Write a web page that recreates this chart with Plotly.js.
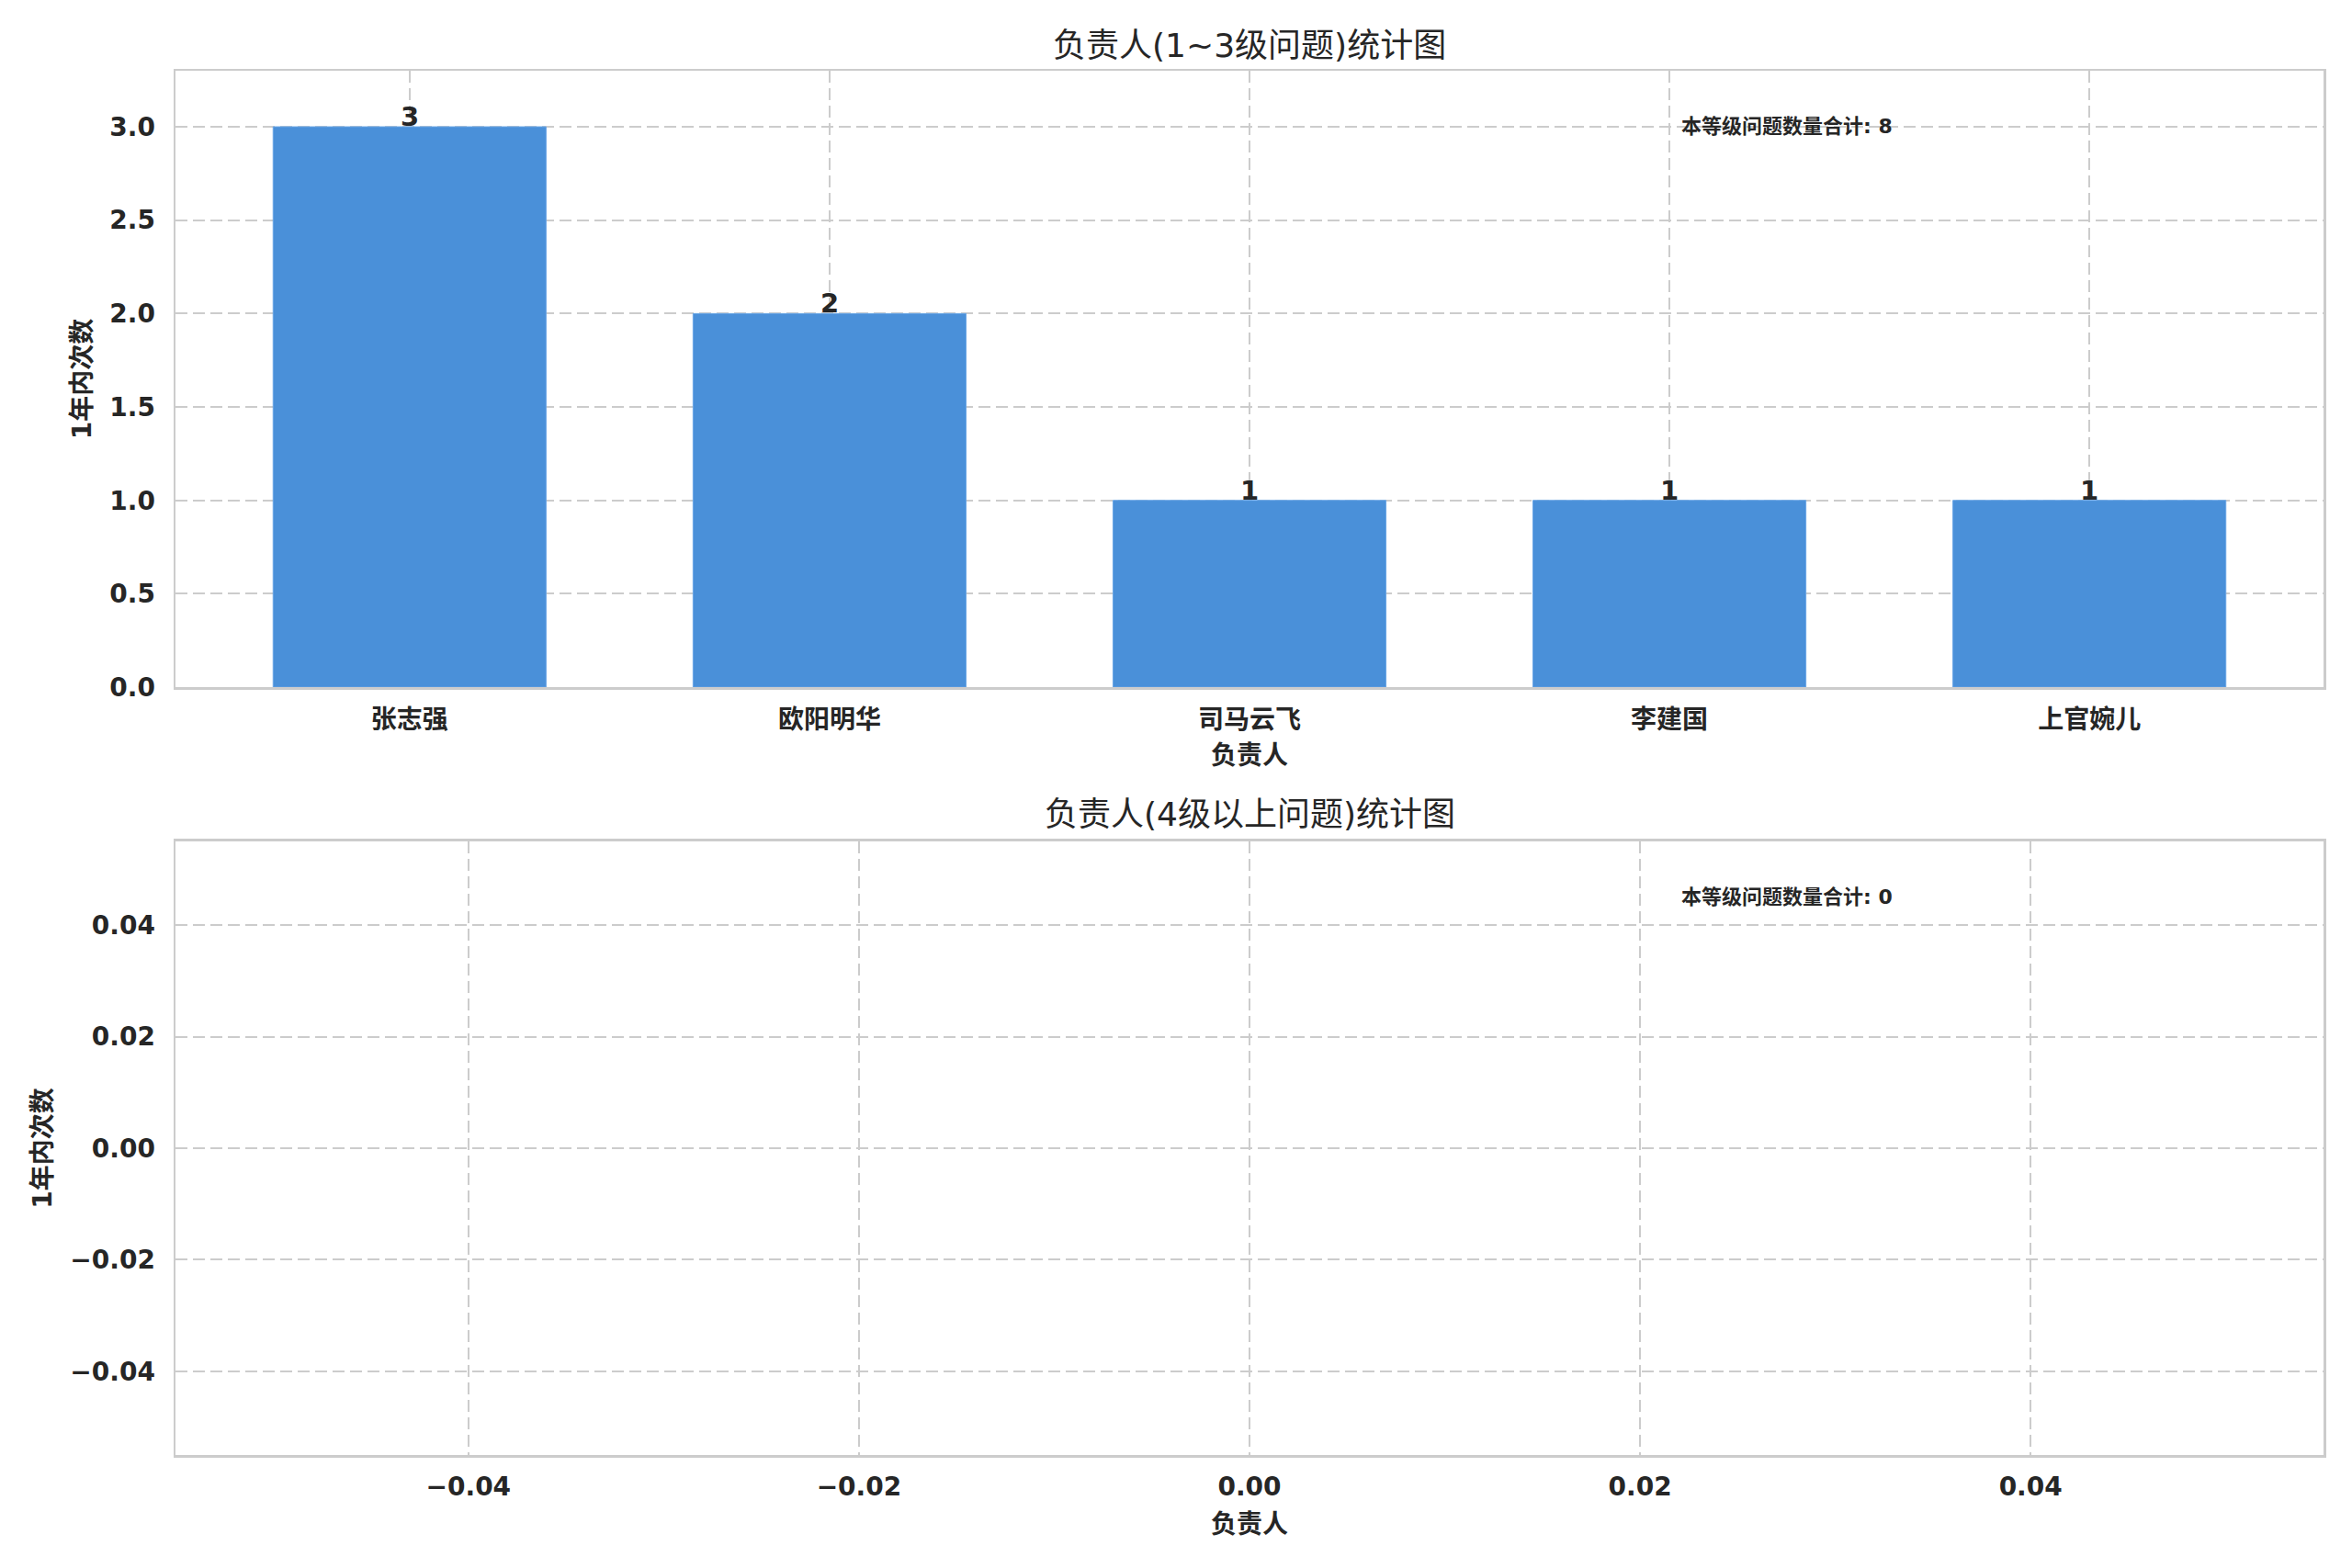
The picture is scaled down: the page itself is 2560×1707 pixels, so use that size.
<!DOCTYPE html>
<html>
<head>
<meta charset="utf-8">
<script src="https://cdn.plot.ly/plotly-3.0.1.min.js"></script>
<style>
  html, body { margin: 0; padding: 0; background: #fff; }
  #chart { width: 2560px; height: 1707px; }
</style>
</head>
<body>
<div id="chart"></div>
<script>
// 1~3 level counts per person
const lowCategories = ['张志强', '欧阳明华', '司马云飞', '李建国', '上官婉儿'];
const lowCounts = [3, 2, 1, 1, 1];

// 4+ level counts (empty)
const highCategories = [];
const highCounts = [];

const lowTitle = '负责人(1~3级问题)统计图';
const highTitle = '负责人(4级以上问题)统计图';
const xLabel = '负责人';
const yLabel = '1年内次数';
const totalLabel = '本等级问题数量合计';

const textColor = '#262626';
const barColor = '#4a90d9';
const gridColor = '#cccccc';
const fontFamily = 'DejaVu Sans, Noto Sans CJK SC, sans-serif';

const sum = (arr) => arr.reduce((a, b) => a + b, 0);

const tickFont = { family: fontFamily, size: 28, color: textColor, weight: 'bold' };
const labelFont = { family: fontFamily, size: 28, color: textColor, weight: 'bold' };

const axisBase = {
  showline: true,
  mirror: true,
  linecolor: gridColor,
  linewidth: 2.5,
  showgrid: true,
  gridcolor: gridColor,
  gridwidth: 2,
  griddash: '13px,6px',
  zeroline: false,
  ticks: '',
  tickfont: tickFont,
  automargin: false,
};

const lowX = lowCategories.map((_, i) => i);

const traces = [
  {
    type: 'bar',
    x: lowX,
    y: lowCounts,
    width: 0.65,
    marker: { color: barColor, line: { color: '#6aa6e6', width: 1 } },
    xaxis: 'x',
    yaxis: 'y',
    hoverinfo: 'skip',
  },
  {
    type: 'bar',
    x: highCategories,
    y: highCounts,
    marker: { color: barColor },
    xaxis: 'x2',
    yaxis: 'y2',
    hoverinfo: 'skip',
  },
];

// value labels sitting on top of each bar
const barLabels = lowCounts.map((v, i) => ({
  text: String(v),
  xref: 'x', yref: 'y',
  x: lowX[i], y: v,
  xanchor: 'center', yanchor: 'bottom',
  yshift: -8,
  showarrow: false,
  font: { family: fontFamily, size: 29, color: textColor, weight: 'bold' },
}));

const layout = {
  width: 2560,
  height: 1707,
  paper_bgcolor: '#ffffff',
  plot_bgcolor: '#ffffff',
  showlegend: false,
  bargap: 0,
  margin: { l: 191, r: 31, t: 77, b: 123 },
  font: { family: fontFamily, color: textColor },
  title: {
    text: lowTitle,
    font: { family: fontFamily, size: 36, color: textColor },
    x: 0.5313,
    xanchor: 'center',
    y: 1 - 49 / 1707,
    yanchor: 'middle',
  },
  xaxis: Object.assign({}, axisBase, {
    domain: [0, 1],
    anchor: 'y',
    range: [-0.5575, 4.5575],
    tickmode: 'array',
    tickvals: lowX,
    ticktext: lowCategories,
    ticklabelstandoff: 9,
    title: { text: xLabel, font: labelFont, standoff: 13 },
  }),
  yaxis: Object.assign({}, axisBase, {
    domain: [0.5547, 1],
    anchor: 'x',
    range: [0, 3.3],
    dtick: 0.5,
    tick0: 0,
    tickformat: '.1f',
    ticklabelstandoff: 14,
    title: { text: yLabel, font: labelFont, standoff: 12 },
  }),
  xaxis2: Object.assign({}, axisBase, {
    domain: [0, 1],
    anchor: 'y2',
    type: 'linear',
    range: [-0.055, 0.055],
    dtick: 0.02,
    tick0: 0,
    tickformat: '.2f',
    ticklabelstandoff: 8,
    title: { text: xLabel, font: labelFont, standoff: 16 },
  }),
  yaxis2: Object.assign({}, axisBase, {
    domain: [0, 0.4433],
    anchor: 'x2',
    type: 'linear',
    range: [-0.055, 0.055],
    dtick: 0.02,
    tick0: 0,
    tickformat: '.2f',
    ticklabelstandoff: 14,
    title: { text: yLabel, font: labelFont, standoff: 12 },
  }),
  annotations: barLabels.concat([
    {
      text: highTitle,
      xref: 'paper', yref: 'paper',
      x: 0.5, y: (1584 - 886) / 1507,
      xanchor: 'center', yanchor: 'middle',
      showarrow: false,
      font: { family: fontFamily, size: 36, color: textColor },
    },
    {
      text: totalLabel + ': ' + sum(lowCounts),
      xref: 'x domain', yref: 'y domain',
      x: 0.7, y: 0.91,
      xanchor: 'left', yanchor: 'middle',
      showarrow: false,
      font: { family: fontFamily, size: 22, color: textColor, weight: 'bold' },
    },
    {
      text: totalLabel + ': ' + sum(highCounts),
      xref: 'x2 domain', yref: 'y2 domain',
      x: 0.7, y: 0.91,
      xanchor: 'left', yanchor: 'middle',
      showarrow: false,
      font: { family: fontFamily, size: 22, color: textColor, weight: 'bold' },
    },
  ]),
};

Plotly.newPlot('chart', traces, layout, { displayModeBar: false, staticPlot: true });
</script>
</body>
</html>
